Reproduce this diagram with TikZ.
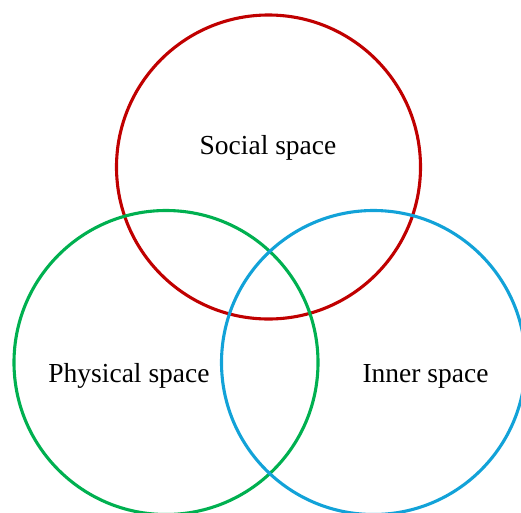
\documentclass[tikz,border=0pt]{standalone}
\usepackage{fontspec}
\setmainfont{Liberation Serif}
\usepackage{tikz}
\usetikzlibrary{positioning}
\definecolor{socialred}{HTML}{C00000}
\definecolor{physgreen}{HTML}{00B050}
\definecolor{innerblue}{HTML}{12A2D8}

\begin{document}
\begin{tikzpicture}[
  x=1pt, y=-1pt,
  ring/.style={circle, draw, line width=3.1pt, minimum size=304pt, inner sep=0pt},
  lbl/.style={anchor=base, inner sep=0pt, font=\fontsize{27.5}{33}\selectfont}
]
\useasboundingbox (0,0) rectangle (521,512);
\clip (0,0) rectangle (521,512);
\node[ring, draw=socialred] (social) at (268.5,167) {};
\node[ring, draw=physgreen] (physical) at (166,362.5) {};
\node[ring, draw=innerblue] (inner) at (373.5,362.5) {};
\node[lbl] (sociallbl) at (268,154) {Social space};
\node[lbl] (physlbl) at (129,382) {Physical space};
\node[lbl] (innerlbl) at (425.5,382) {Inner space};
\end{tikzpicture}
\end{document}
